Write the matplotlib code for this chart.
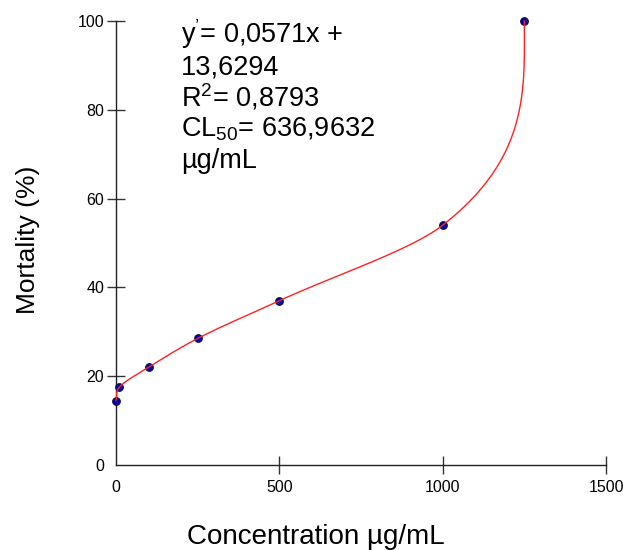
import numpy as np
import matplotlib
matplotlib.use("Agg")
import matplotlib.pyplot as plt

plt.rcParams['font.family'] = ['Liberation Sans', 'DejaVu Sans']
plt.rcParams['mathtext.fontset'] = 'custom'
plt.rcParams['mathtext.rm'] = 'Liberation Sans'
plt.rcParams['mathtext.it'] = 'Liberation Sans'
plt.rcParams['mathtext.default'] = 'regular'

# Data
concentration = [0, 10, 100, 250, 500, 1000, 1250]
mortality = [14.5, 17.5, 22, 28.5, 37, 54, 100]
x_ticks = [0, 500, 1000, 1500]
y_ticks = [0, 20, 40, 60, 80, 100]
annotation = [r"y$^{’}$= 0,0571x +", "13,6294", r"R$^{2}$= 0,8793",
              r"CL$_{50}$= 636,9632", "µg/mL"]
xlabel = "Concentration µg/mL"
ylabel = "Mortality (%)"


def hermite_curve(t, v, end_slope=0.0, n=60):
    """Smooth curve v(t) through the points: cubic Hermite with
    finite-difference (mean secant) tangents."""
    t = np.asarray(t, float)
    v = np.asarray(v, float)
    sec = np.diff(v) / np.diff(t)
    m = np.empty_like(t)
    m[0] = sec[0]
    m[1:-1] = 0.5 * (sec[:-1] + sec[1:])
    m[-1] = end_slope
    tt_all, vv_all = [], []
    for i in range(len(t) - 1):
        h = t[i + 1] - t[i]
        s = np.linspace(0, 1, n)
        h00 = 2 * s**3 - 3 * s**2 + 1
        h10 = s**3 - 2 * s**2 + s
        h01 = -2 * s**3 + 3 * s**2
        h11 = s**3 - s**2
        tt_all.append(t[i] + s * h)
        vv_all.append(h00 * v[i] + h10 * h * m[i] + h01 * v[i + 1] + h11 * h * m[i + 1])
    return np.concatenate(tt_all), np.concatenate(vv_all)


W, H = 623, 550
fig = plt.figure(figsize=(W / 100, H / 100), dpi=100)
ax = fig.add_axes([116 / W, 1 - 465 / H, 490 / W, 444 / H])

ys, xs = hermite_curve(mortality, concentration)
ax.plot(concentration, mortality, linestyle='none', marker='o', markersize=5.5,
        markerfacecolor='#0000C0', markeredgecolor='#101030', markeredgewidth=0.8,
        clip_on=False, zorder=3)
ax.plot(xs, ys, color='#FF2020', linewidth=1.0, clip_on=False, zorder=4)

ax.set_xlim(0, 1500)
ax.set_ylim(0, 100)
ax.set_xticks(x_ticks)
ax.set_yticks(y_ticks)
ax.set_xticklabels([str(v) for v in x_ticks])
ax.set_yticklabels([str(v) for v in y_ticks])
ax.spines['top'].set_visible(False)
ax.spines['right'].set_visible(False)
for s in ('left', 'bottom'):
    ax.spines[s].set_linewidth(1.0)
    ax.spines[s].set_color('#222222')
ax.tick_params(axis='both', direction='inout', length=13, width=1.0,
               color='#333333', labelsize=11.5)
ax.tick_params(axis='y', pad=2)
ax.tick_params(axis='x', pad=4)
ax.xaxis.get_major_ticks()[0].tick1line.set_visible(False)
ax.yaxis.get_major_ticks()[0].tick1line.set_visible(False)

baselines = [43, 75, 106, 137, 168]
for txt, by in zip(annotation, baselines):
    fig.text(181 / W, 1 - by / H, txt, fontsize=19.5, ha='left', va='baseline')

fig.text(316 / W, 1 - 544 / H, xlabel, fontsize=20, ha='center', va='baseline')
fig.text(28 / W, 1 - 240 / H, ylabel, fontsize=19, ha='center', va='center',
         rotation=90)

fig.savefig('out.png', dpi=100)
